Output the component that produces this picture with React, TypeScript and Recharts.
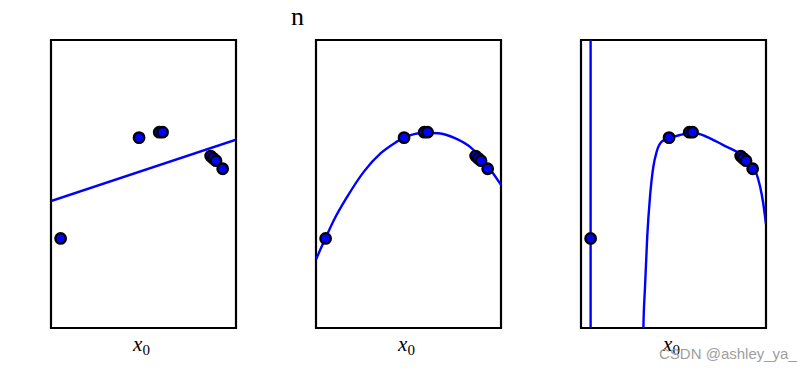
import React from "react";
import {
  ComposedChart,
  Scatter,
  Line,
  XAxis,
  YAxis,
  ReferenceArea,
} from "recharts";

// sample points (x0 scaled to 0..1, target scaled to 0..1)
const sampleX = [0.052, 0.476, 0.585, 0.603, 0.863, 0.877, 0.892, 0.928];
const sampleY = [0.311, 0.661, 0.68, 0.68, 0.597, 0.589, 0.581, 0.553];

// degree 1 fit
const fit1X = [0, 1];
const fit1Y = [0.441, 0.654];

// degree 4-ish fit
const fit4X = [0, 0.052, 0.097, 0.169, 0.259, 0.35, 0.422, 0.479, 0.53, 0.589, 0.661, 0.751, 0.842, 0.931, 1];
const fit4Y = [0.238, 0.313, 0.375, 0.456, 0.543, 0.607, 0.641, 0.662, 0.673, 0.678, 0.676, 0.659, 0.624, 0.56, 0.497];

// high degree fit: spike at first sample, then the curve
const spikeX = [0.052, 0.052, 0.052];
const spikeY = [1.3, 0.311, -0.3];
const fit15X = [0.335, 0.337, 0.346, 0.358, 0.373, 0.391, 0.409, 0.436, 0.477, 0.535, 0.607, 0.679, 0.769, 0.842, 0.904, 0.941, 0.968, 0.985, 1];
const fit15Y = [-0.1, -0.007, 0.143, 0.317, 0.456, 0.56, 0.612, 0.647, 0.659, 0.67, 0.678, 0.664, 0.635, 0.612, 0.583, 0.549, 0.491, 0.433, 0.36];

const toRows = (xs: number[], ys: number[]) => xs.map((x, i) => ({ x, y: ys[i] }));

const points = toRows(sampleX, sampleY);

const panels = [
  { left: 51, lines: [{ d: toRows(fit1X, fit1Y), t: "linear" }] },
  { left: 316, lines: [{ d: toRows(fit4X, fit4Y), t: "monotone" }] },
  {
    left: 581,
    lines: [
      { d: toRows(spikeX, spikeY), t: "linear" },
      { d: toRows(fit15X, fit15Y), t: "monotone" },
    ],
  },
];

const M = 10;
const W = 185;
const H = 288;

function Panel({ left, lines }: { left: number; lines: { d: { x: number; y: number }[]; t: string }[] }) {
  return (
    <div style={{ position: "absolute", left: left - M, top: 40 - M }}>
      <ComposedChart
        width={W + 2 * M}
        height={H + 2 * M}
        margin={{ top: M, right: M, bottom: M, left: M }}
      >
        <XAxis type="number" dataKey="x" domain={[0, 1]} hide allowDataOverflow />
        <YAxis type="number" dataKey="y" domain={[0, 1]} hide allowDataOverflow />
        <Scatter
          data={points}
          fill="#0000ff"
          isAnimationActive={false}
          shape={(p: any) => (
            <circle cx={p.cx} cy={p.cy} r={5.2} fill="#0000ff" stroke="#000" strokeWidth={2.4} />
          )}
        />
        {lines.map((l, i) => (
          <Line
            key={i}
            data={l.d}
            dataKey="y"
            type={l.t as any}
            stroke="#0000ff"
            strokeWidth={2.4}
            dot={false}
            activeDot={false}
            isAnimationActive={false}
          />
        ))}
        <ReferenceArea
          x1={0}
          x2={1}
          y1={0}
          y2={1}
          fill="none"
          fillOpacity={0}
          stroke="#000"
          strokeWidth={2.2}
          strokeOpacity={1}
        />
      </ComposedChart>
      <div
        style={{
          position: "absolute",
          left: M,
          width: W,
          top: M + H + 5,
          textAlign: "center",
          paddingRight: 4,
          boxSizing: "border-box",
          fontFamily: "'Liberation Serif', serif",
          fontStyle: "italic",
          fontSize: 21,
          lineHeight: "22px",
          color: "#000",
          whiteSpace: "nowrap",
        }}
      >
        x
        <span style={{ fontStyle: "normal", fontSize: 15, position: "relative", top: 4 }}>0</span>
      </div>
    </div>
  );
}

export default function App() {
  return (
    <div
      style={{
        position: "absolute",
        left: 0,
        top: 0,
        width: 810,
        height: 374,
        background: "#fff",
        overflow: "hidden",
      }}
    >
      <div
        style={{
          position: "absolute",
          left: 291,
          top: 2,
          fontFamily: "'Liberation Serif', serif",
          fontSize: 26,
          lineHeight: "30px",
          color: "#000",
        }}
      >
        n
      </div>
      {panels.map((p, i) => (
        <Panel key={i} left={p.left} lines={p.lines} />
      ))}
      <div
        style={{
          position: "absolute",
          left: 659,
          top: 345,
          fontFamily: "'Liberation Sans', Arial, sans-serif",
          fontSize: 15,
          color: "#9e9e9e",
        }}
      >
        CSDN @ashley_ya_
      </div>
    </div>
  );
}
